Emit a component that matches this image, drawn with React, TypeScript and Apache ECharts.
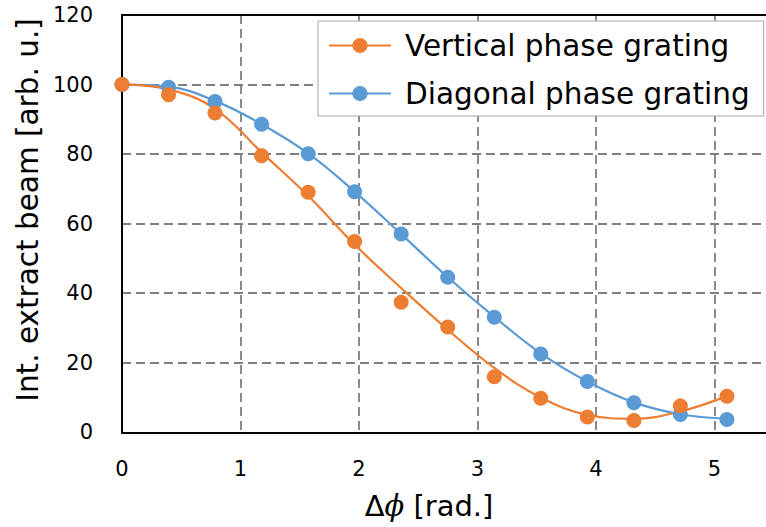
import React, { useEffect, useRef } from "react";
import * as echarts from "echarts";

const phase = [0, 0.393, 0.785, 1.178, 1.571, 1.963, 2.356, 2.749, 3.142, 3.534, 3.927, 4.32, 4.712, 5.105];
const verticalPts = [100, 97.1, 91.8, 79.5, 69.0, 54.9, 37.4, 30.3, 16.0, 9.8, 4.4, 3.4, 7.6, 10.4];
const diagonalPts = [100, 99.2, 95.1, 88.6, 80.1, 69.2, 57.0, 44.6, 33.1, 22.5, 14.6, 8.5, 5.1, 3.7];
const verticalFit = [100, 98.6, 93, 80.5, 68, 54, 41.5, 29.5, 18.5, 10, 5, 3.9, 6, 10.4];
const diagonalFit = [100, 99.4, 95.3, 88.6, 80.2, 69.2, 57, 44.6, 33.2, 22.7, 14.6, 8.6, 5.2, 3.9];
const seriesNames = ["Vertical phase grating", "Diagonal phase grating"];
const yTitle = "Int. extract beam [arb. u.]";

const ORANGE = "#ED7D31";
const BLUE = "#5B9BD5";
const FONT = "DejaVu Sans";

const zip = (xs: number[], ys: number[]) => xs.map((x, i) => [x, ys[i]]);

export default function App() {
  const ref = useRef<HTMLDivElement>(null);
  useEffect(() => {
    if (!ref.current) return;
    const chart = echarts.init(ref.current, undefined, { renderer: "svg" });
    const dashed = { color: "#7f7f7f", width: 1.8, type: [9, 5] };
    chart.setOption({
      animation: false,
      backgroundColor: "#fff",
      textStyle: { fontFamily: FONT },
      grid: {
        left: 122,
        top: 15,
        width: 5.5 * 118.5,
        height: 417.3,
        outerBoundsMode: "none",
        containLabel: false,
        show: false,
      },
      legend: {
        data: seriesNames,
        orient: "vertical",
        left: 318,
        top: 21,
        padding: [9, 14, 7, 10],
        itemWidth: 62,
        itemHeight: 19,
        itemGap: 17,
        backgroundColor: "#fff",
        borderColor: "#a6a6a6",
        borderWidth: 1,
        textStyle: { fontFamily: FONT, fontSize: 29.5, color: "#000", lineHeight: 31, padding: [0, 0, 0, 9] },
      },
      xAxis: [
        {
          type: "value",
          min: 0,
          max: 5.5,
          interval: 1,
          axisLine: { show: true, lineStyle: { color: "#000", width: 2 } },
          axisTick: { show: false },
          axisLabel: { fontFamily: FONT, fontSize: 21, color: "#000", margin: 26, showMaxLabel: false },
          splitLine: { show: true, showMinLine: false, showMaxLine: false, lineStyle: dashed },
        },
        {
          type: "value",
          position: "top",
          min: 0,
          max: 5.5,
          interval: 1,
          axisLine: { show: true, onZero: false, lineStyle: { color: "#000", width: 2 } },
          axisTick: { show: false },
          axisLabel: { show: false },
          splitLine: { show: false },
        },
      ],
      yAxis: {
        type: "value",
        min: 0,
        max: 120,
        interval: 20,
        axisLine: { show: true, lineStyle: { color: "#000", width: 2 } },
        axisTick: { show: false },
        axisLabel: { fontFamily: FONT, fontSize: 21, color: "#000", margin: 29 },
        splitLine: { show: true, showMinLine: false, showMaxLine: false, lineStyle: dashed },
      },
      graphic: [
        {
          type: "text",
          x: 429,
          y: 506,
          style: {
            text: "{a|Δ}{b|ϕ}{a| [rad.]}",
            align: "center",
            verticalAlign: "middle",
            rich: {
              a: { fontFamily: FONT, fontSize: 29, fill: "#000" },
              b: { fontFamily: "DejaVu Serif", fontStyle: "italic", fontSize: 29, fill: "#000" },
            },
          },
        },
        {
          type: "text",
          x: 28,
          y: 210,
          rotation: Math.PI / 2,
          style: {
            text: yTitle,
            align: "center",
            verticalAlign: "middle",
            fontFamily: FONT,
            fontSize: 29.5,
            fill: "#000",
          },
        },
      ],
      series: [
        {
          name: seriesNames[1],
          type: "line",
          data: zip(phase, diagonalFit),
          smooth: 0.4,
          showSymbol: false,
          symbol: "circle",
          lineStyle: { color: BLUE, width: 2.2 },
          itemStyle: { color: BLUE },
          z: 3,
        },
        {
          name: seriesNames[0],
          type: "line",
          data: zip(phase, verticalFit),
          smooth: 0.4,
          showSymbol: false,
          symbol: "circle",
          lineStyle: { color: ORANGE, width: 2.2 },
          itemStyle: { color: ORANGE },
          z: 3,
        },
        {
          name: seriesNames[1],
          type: "scatter",
          data: zip(phase, diagonalPts),
          symbol: "circle",
          symbolSize: 15,
          itemStyle: { color: BLUE, opacity: 1 },
          z: 4,
        },
        {
          name: seriesNames[0],
          type: "scatter",
          data: zip(phase, verticalPts),
          symbol: "circle",
          symbolSize: 15,
          itemStyle: { color: ORANGE, opacity: 1 },
          z: 5,
        },
      ],
    });
    return () => chart.dispose();
  }, []);
  return (
    <div
      ref={ref}
      style={{ position: "fixed", left: 0, top: 0, width: 766, height: 527, overflow: "hidden", background: "#fff" }}
    />
  );
}
